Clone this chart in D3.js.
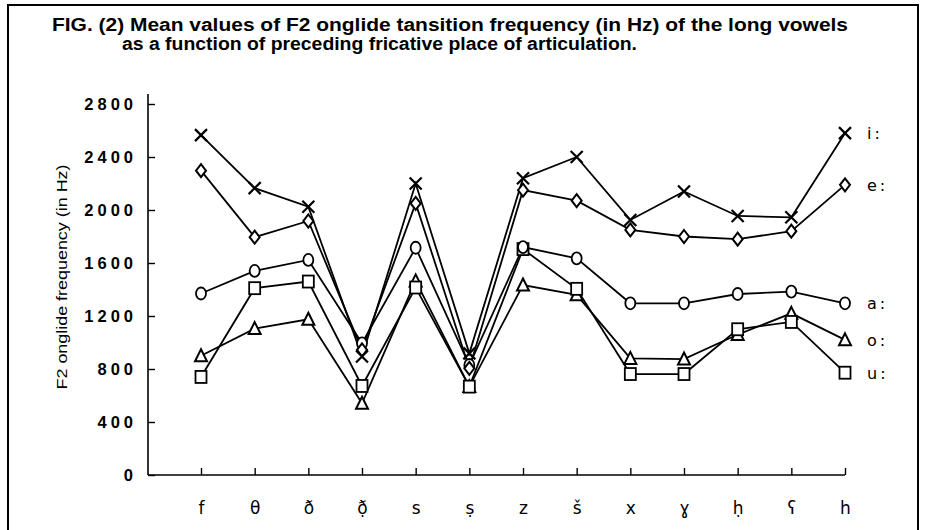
<!DOCTYPE html>
<html><head><meta charset="utf-8">
<script src="https://cdn.jsdelivr.net/npm/d3@7"></script>
<style>body{margin:0;background:#fff}svg{display:block}</style>
</head><body>
<svg id="c" width="925" height="530"></svg>
<script>
const categories = ["f","θ","ð","ð̣","s","ṣ","z","š","x","ɣ","ḥ","ʕ","h"];
const yTicks = [0,400,800,1200,1600,2000,2400,2800];
const seriesNames = ["i:","e:","a:","o:","u:"];
const seriesMarkers = ["x","diamond","circle","triangle","square"];
const valuesI = [2565,2165,2025,895,2200,918,2240,2400,1925,2140,1955,1945,2580];
const valuesE = [2297,1795,1917,945,2050,805,2150,2070,1850,1800,1780,1840,2190];
const valuesA = [1370,1540,1623,994,1715,830,1720,1635,1296,1296,1366,1384,1296];
const valuesO = [900,1105,1175,541,1465,667,1434,1360,880,875,1060,1220,1020];
const valuesU = [740,1410,1460,672,1415,667,1705,1405,762,762,1100,1155,772];
const seriesValues = [valuesI,valuesE,valuesA,valuesO,valuesU];
const drawOrder = [3,4,2,1,0];

const svg = d3.select("#c");
svg.append("rect").attr("x",8).attr("y",5).attr("width",910).attr("height",540)
  .attr("fill","none").attr("stroke","#000").attr("stroke-width",2);

const titleFont = "Liberation Sans, Arial, sans-serif";
svg.append("text").attr("x",52).attr("y",31).attr("textLength",796).attr("lengthAdjust","spacingAndGlyphs")
  .attr("font-family",titleFont).attr("font-weight","bold").attr("font-size",17.5).attr("fill","#000")
  .text("FIG. (2) Mean values of F2 onglide tansition frequency (in Hz) of the long vowels");
svg.append("text").attr("x",122).attr("y",50).attr("textLength",515).attr("lengthAdjust","spacingAndGlyphs")
  .attr("font-family",titleFont).attr("font-weight","bold").attr("font-size",17.5).attr("fill","#000")
  .text("as a function of preceding fricative place of articulation.");

const x = d3.scalePoint().domain(categories).range([201,845]);
const y = d3.scaleLinear().domain([0,2800]).range([475,104]);

const ya = svg.append("g").attr("transform","translate(148,0)")
  .call(d3.axisLeft(y).tickValues(yTicks).tickSize(-7).tickPadding(15).tickFormat(d3.format("d")));
ya.select(".domain").attr("d",`M0,${y(0)}V${y.range()[1]-10}`).attr("stroke-width",1.6);
ya.selectAll(".tick line").attr("stroke-width",1.4);
ya.selectAll(".tick text").attr("font-family",titleFont)
  .attr("font-weight","bold").attr("font-size",16.5).attr("letter-spacing",4).attr("fill","#000").attr("dx",4);

svg.append("text").attr("transform","translate(67,277) rotate(-90)").attr("text-anchor","middle")
  .attr("font-family",titleFont).attr("font-size",14).attr("fill","#000")
  .attr("textLength",225).attr("lengthAdjust","spacingAndGlyphs")
  .text("F2 onglide frequency (in Hz)");

const xa = svg.append("g").attr("transform",`translate(0,${y(0)})`)
  .call(d3.axisBottom(x).tickSize(-7).tickPadding(27));
xa.select(".domain").attr("d",`M148,0H${x.range()[1]}`).attr("stroke-width",1.6);
xa.selectAll(".tick line").attr("stroke-width",1.4);
xa.selectAll(".tick text").attr("font-family","DejaVu Sans, sans-serif").attr("font-size",17)
  .attr("fill","#000");

const line = d3.line().x((d,i)=>x(categories[i])).y(d=>y(d));
const g = svg.append("g");
drawOrder.forEach(si=>{
  g.append("path").datum(seriesValues[si]).attr("d",line).attr("fill","none").attr("stroke","#000").attr("stroke-width",1.8);
});
function drawMarker(sel, type){
  if(type==="x"){
    sel.append("path").attr("d","M-6,-6L6,6M-6,6L6,-6").attr("stroke","#000").attr("stroke-width",2.2).attr("fill","none");
  } else if(type==="diamond"){
    sel.append("path").attr("d","M0,-6.5L5,0L0,6.5L-5,0Z").attr("fill","#fff").attr("stroke","#000").attr("stroke-width",2);
  } else if(type==="circle"){
    sel.append("ellipse").attr("rx",5).attr("ry",6).attr("fill","#fff").attr("stroke","#000").attr("stroke-width",1.8);
  } else if(type==="triangle"){
    sel.append("path").attr("d","M0,-6.5L6,5.5L-6,5.5Z").attr("fill","#fff").attr("stroke","#000").attr("stroke-width",2);
  } else {
    sel.append("rect").attr("x",-5.5).attr("y",-6).attr("width",11).attr("height",12).attr("fill","#fff").attr("stroke","#000").attr("stroke-width",1.8);
  }
}
drawOrder.forEach(si=>{
  const vals = seriesValues[si];
  vals.forEach((v,i)=>{
    const m = g.append("g").attr("transform",`translate(${x(categories[i])},${y(v)})`);
    drawMarker(m, seriesMarkers[si]);
  });
  svg.append("text").attr("x",x(categories[categories.length-1])+22).attr("y",y(vals[vals.length-1])+6)
    .attr("font-family","DejaVu Sans, sans-serif").attr("font-size",16).attr("letter-spacing",3)
    .attr("fill","#000").text(seriesNames[si]);
});
</script>
</body></html>
